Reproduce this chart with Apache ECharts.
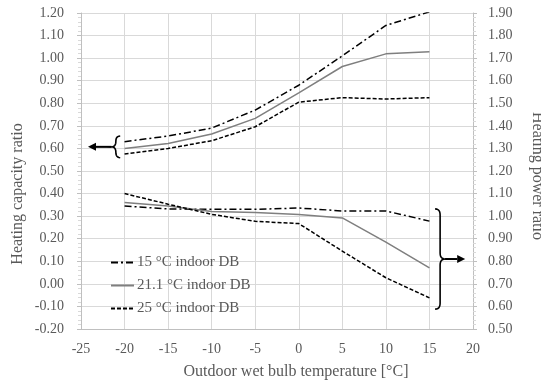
<!DOCTYPE html>
<html>
<head>
<meta charset="utf-8">
<script src="https://cdn.jsdelivr.net/npm/echarts@6/dist/echarts.min.js"></script>
<style>
  html, body { margin: 0; padding: 0; background: #fff; }
  #chart { width: 541px; height: 383px; }
</style>
</head>
<body>
<div id="chart"></div>
<script>
// outdoor wet bulb temperature [°C]
const temps = [-20, -15, -10, -5, 0, 5, 10, 15]

// heating capacity ratio (left axis)
const cap15 = [0.63, 0.655, 0.69, 0.77, 0.88, 1.01, 1.145, 1.205]
const cap21 = [0.60, 0.622, 0.664, 0.733, 0.846, 0.963, 1.019, 1.028]
const cap25 = [0.575, 0.60, 0.634, 0.696, 0.805, 0.825, 0.819, 0.825]

// heating power ratio (right axis)
const pow15 = [1.045, 1.032, 1.03, 1.03, 1.036, 1.023, 1.023, 0.978]
const pow21 = [1.06, 1.045, 1.021, 1.016, 1.007, 0.992, 0.885, 0.771]
const pow25 = [1.10, 1.053, 1.008, 0.977, 0.967, 0.845, 0.727, 0.638]

const names = ['15 °C indoor DB', '21.1 °C indoor DB', '25 °C indoor DB']

const FONT = '"Liberation Serif", "Times New Roman", serif'
const TXT = '#595959'
const GRID = '#d9d9d9'

const styles = [
  { color: '#000', width: 1.5, type: [7, 3, 2, 3] },
  { color: '#7f7f7f', width: 1.5, type: 'solid' },
  { color: '#000', width: 1.5, type: [4, 2] }
]

const zip = (xs, ys) => xs.map((x, i) => [x, ys[i]])

function mkSeries (name, data, axis, st) {
  return {
    name,
    type: 'line',
    yAxisIndex: axis,
    data: zip(temps, data),
    showSymbol: false,
    symbol: 'none',
    color: st.color,
    lineStyle: { color: st.color, width: st.width, type: st.type }
  }
}

const chart = echarts.init(document.getElementById('chart'))

const yCommon = {
  type: 'value',
  interval: 0.1,
  axisLine: { show: true, onZero: false, lineStyle: { color: '#bfbfbf' } },
  axisTick: { show: true, length: 4, lineStyle: { color: '#bfbfbf' } },
  minorTick: { show: true, splitNumber: 5, length: 3, lineStyle: { color: GRID } },
  axisLabel: { color: TXT, fontFamily: FONT, fontSize: 14, margin: 17, formatter: v => v.toFixed(2) }
}

chart.setOption({
  animation: false,
  grid: { left: 81, right: 68, top: 13, bottom: 54 },
  legend: {
    orient: 'vertical',
    left: 105,
    top: 250,
    itemWidth: 23,
    itemHeight: 10,
    itemGap: 8,
    data: names,
    itemStyle: { color: 'transparent', borderColor: 'transparent', borderWidth: 0 },
    textStyle: { color: TXT, fontFamily: FONT, fontSize: 15, padding: [0, 0, 0, -2] }
  },
  xAxis: {
    type: 'value',
    min: -25,
    max: 20,
    interval: 5,
    axisLine: { onZero: false, lineStyle: { color: '#bfbfbf' } },
    axisTick: { show: false },
    splitLine: { show: true, lineStyle: { color: GRID } },
    axisLabel: { color: TXT, fontFamily: FONT, fontSize: 14, margin: 13 }
  },
  yAxis: [
    Object.assign({}, yCommon, {
      min: -0.2, max: 1.2, position: 'left',
      splitLine: { show: true, lineStyle: { color: GRID } }
    }),
    Object.assign({}, yCommon, {
      min: 0.5, max: 1.9, position: 'right',
      axisLabel: Object.assign({}, yCommon.axisLabel, { margin: 15 }),
      splitLine: { show: false }
    })
  ],
  series: [
    mkSeries(names[0], cap15, 0, styles[0]),
    mkSeries(names[1], cap21, 0, styles[1]),
    mkSeries(names[2], cap25, 0, styles[2]),
    mkSeries(names[0], pow15, 1, styles[0]),
    mkSeries(names[1], pow21, 1, styles[1]),
    mkSeries(names[2], pow25, 1, styles[2])
  ]
})

// curly braces with arrows pointing at the axis each group belongs to
// [tip x, tip y, half height (y units), brace width (x units), arrow end x]
const leftBrace = [-21.5, 0.607, 0.048, 1.0, -24.2]
const rightBrace = [16.8, 0.81, 0.222, 1.15, 19.1]

// sample a quadratic bezier into points
function quad (p0, p1, p2, n) {
  const pts = []
  for (let i = 1; i <= n; i++) {
    const t = i / n
    const a = (1 - t) * (1 - t), b = 2 * (1 - t) * t, c = t * t
    pts.push([a * p0[0] + b * p1[0] + c * p2[0], a * p0[1] + b * p1[1] + c * p2[1]])
  }
  return pts
}

function bracePoints (tx, ty, half, w, dir) {
  // dir = -1: tip on the left, dir = 1: tip on the right
  const bx = tx - dir * w
  const mx = tx - dir * w / 2
  const r = Math.min(w / 2 + 1, half / 2)
  const top = ty - half
  const bot = ty + half
  let pts = [[bx, top]]
  pts = pts.concat(quad([bx, top], [mx, top], [mx, top + r], 6))
  pts.push([mx, ty - r])
  pts = pts.concat(quad([mx, ty - r], [mx, ty], [tx, ty], 6))
  pts = pts.concat(quad([tx, ty], [mx, ty], [mx, ty + r], 6))
  pts.push([mx, bot - r])
  pts = pts.concat(quad([mx, bot - r], [mx, bot], [bx, bot], 6))
  return pts
}

function annot (b, axis, dir) {
  const finder = { xAxisIndex: 0, yAxisIndex: axis }
  const tip = chart.convertToPixel(finder, [b[0], b[1]])
  const topP = chart.convertToPixel(finder, [b[0], b[1] + b[2]])
  const w = Math.abs(chart.convertToPixel(finder, [b[0] + b[3], b[1]])[0] - tip[0])
  const arrowX = chart.convertToPixel(finder, [b[4], b[1]])[0]
  const half = tip[1] - topP[1]
  const head = 8
  return [
    {
      type: 'polyline',
      shape: { points: bracePoints(tip[0], tip[1], half, w, dir) },
      style: { fill: null, stroke: '#000', lineWidth: 1.6 }
    },
    {
      type: 'line',
      shape: { x1: tip[0], y1: tip[1], x2: arrowX - dir * head, y2: tip[1] },
      style: { stroke: '#000', lineWidth: 2 }
    },
    {
      type: 'polygon',
      shape: { points: [[arrowX, tip[1]], [arrowX - dir * head, tip[1] - 4], [arrowX - dir * head, tip[1] + 4]] },
      style: { fill: '#000' }
    }
  ]
}

chart.setOption({
  graphic: [
    ...annot(leftBrace, 0, -1),
    ...annot(rightBrace, 1, 1),
    {
      type: 'text',
      x: 18, y: 194, rotation: Math.PI / 2,
      style: { text: 'Heating capacity ratio', fill: TXT, font: `16px ${FONT}`, align: 'center', verticalAlign: 'middle' }
    },
    {
      type: 'text',
      x: 537, y: 176, rotation: -Math.PI / 2,
      style: { text: 'Heating power ratio', fill: TXT, font: `16px ${FONT}`, align: 'center', verticalAlign: 'middle' }
    },
    {
      type: 'text',
      x: 296, y: 372,
      style: { text: 'Outdoor wet bulb temperature [°C]', fill: TXT, font: `16px ${FONT}`, align: 'center', verticalAlign: 'middle' }
    }
  ]
})
</script>
</body>
</html>
